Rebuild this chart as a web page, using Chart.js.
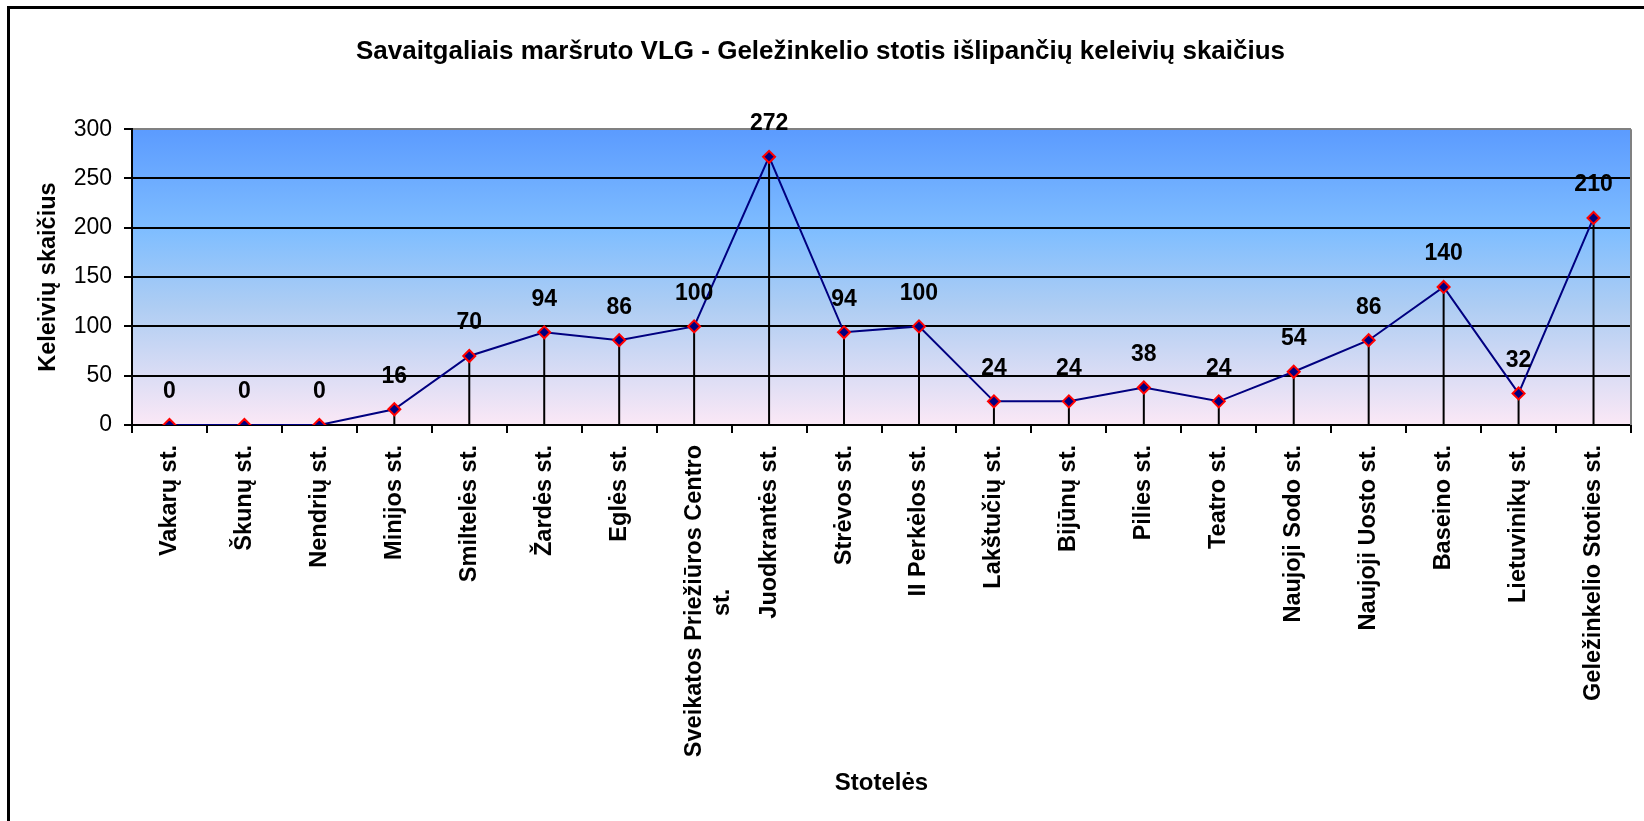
<!DOCTYPE html>
<html>
<head>
<meta charset="utf-8">
<script src="https://cdn.jsdelivr.net/npm/chart.js@4/dist/chart.umd.min.js"></script>
<style>
  html, body { margin: 0; padding: 0; background: #fff; }
  canvas { display: block; }
</style>
</head>
<body>
<canvas id="chart" width="1644" height="821"></canvas>
<script>
// Stotelės (kategorijos)
const stops = [
  'Vakarų st.', 'Škunų st.', 'Nendrių st.', 'Minijos st.', 'Smiltelės st.',
  'Žardės st.', 'Eglės st.', ['Sveikatos Priežiūros Centro', 'st.' + ' '.repeat(22)], 'Juodkrantės st.',
  'Strėvos st.', 'II Perkėlos st.', 'Lakštučių st.', 'Bijūnų st.', 'Pilies st.',
  'Teatro st.', 'Naujoji Sodo st.', 'Naujoji Uosto st.', 'Baseino st.',
  'Lietuvinikų st.', 'Geležinkelio Stoties st.'
];
// Išlipančių keleivių skaičius
const passengers = [0, 0, 0, 16, 70, 94, 86, 100, 272, 94, 100, 24, 24, 38, 24, 54, 86, 140, 32, 210];
// Y ašies žymės
const yTicks = [0, 50, 100, 150, 200, 250, 300];

const chartTitle = 'Savaitgaliais maršruto VLG - Geležinkelio stotis išlipančių keleivių skaičius';
const FONT = "'Liberation Sans', Arial, sans-serif";

// rėmelis, fonas (gradientas), numetimo linijos, reikšmių etiketės
const decor = {
  id: 'decor',
  beforeDraw(chart) {
    const { ctx, chartArea: a } = chart;
    ctx.save();
    ctx.fillStyle = '#fff';
    ctx.fillRect(0, 0, chart.width, chart.height);
    ctx.strokeStyle = '#000';
    ctx.lineWidth = 3;
    ctx.strokeRect(8.5, 7.5, 3000, 3000);
    const g = ctx.createLinearGradient(0, a.top, 0, a.bottom);
    g.addColorStop(0, '#5b9bff');
    g.addColorStop(0.35, '#80beff');
    g.addColorStop(0.6, '#aecdf3');
    g.addColorStop(1, '#fbe8f6');
    ctx.fillStyle = g;
    ctx.fillRect(a.left, a.top, a.right - a.left, a.bottom - a.top);
    ctx.restore();
  },
  beforeDatasetsDraw(chart) {
    const { ctx, chartArea: a } = chart;
    const y0 = chart.scales.y.getPixelForValue(0);
    ctx.save();
    // dešinysis plot krašto rėmas
    ctx.strokeStyle = '#808080';
    ctx.lineWidth = 2;
    ctx.beginPath();
    ctx.moveTo(a.right, a.top);
    ctx.lineTo(a.right, a.bottom);
    ctx.stroke();
    ctx.strokeStyle = '#000';
    ctx.lineWidth = 2;
    chart.getDatasetMeta(0).data.forEach((pt) => {
      ctx.beginPath();
      ctx.moveTo(pt.x, pt.y);
      ctx.lineTo(pt.x, y0);
      ctx.stroke();
    });
    ctx.restore();
  },
  afterDatasetsDraw(chart) {
    const { ctx } = chart;
    ctx.save();
    ctx.fillStyle = '#000';
    ctx.font = 'bold 23px ' + FONT;
    ctx.textAlign = 'center';
    ctx.textBaseline = 'middle';
    chart.getDatasetMeta(0).data.forEach((pt, i) => {
      ctx.fillText(String(passengers[i]), pt.x, pt.y - 33);
    });
    ctx.restore();
  }
};

new Chart(document.getElementById('chart'), {
  type: 'line',
  data: {
    labels: stops,
    datasets: [{
      data: passengers,
      borderColor: '#000080',
      borderWidth: 2,
      pointStyle: 'rectRot',
      pointRadius: 6,
      pointHoverRadius: 6,
      pointBackgroundColor: '#000080',
      pointBorderColor: '#ff0000',
      pointBorderWidth: 2,
      tension: 0
    }]
  },
  options: {
    responsive: false,
    animation: false,
    events: [],
    layout: { padding: { left: 10, right: 13, top: 0, bottom: 0 } },
    plugins: {
      legend: { display: false },
      tooltip: { enabled: false },
      title: {
        display: true,
        text: chartTitle,
        color: '#000',
        font: { family: FONT, size: 26, weight: 'bold' },
        padding: { top: 36, bottom: 62 }
      }
    },
    scales: {
      x: {
        offset: true,
        afterFit(scale) { scale.height = 396; },
        grid: {
          offset: true,
          drawOnChartArea: false,
          drawTicks: true,
          tickLength: 8,
          color: '#000',
          lineWidth: 2
        },
        border: { color: '#000', width: 2 },
        ticks: {
          autoSkip: false,
          minRotation: 90,
          maxRotation: 90,
          padding: 12,
          color: '#000',
          font: { family: FONT, size: 23.5, weight: 'bold' }
        },
        title: {
          display: true,
          text: 'Stotelės',
          color: '#000',
          font: { family: FONT, size: 24, weight: 'bold' },
          padding: { top: 0, bottom: 23 }
        }
      },
      y: {
        min: yTicks[0],
        max: yTicks[yTicks.length - 1],
        afterFit(scale) { scale.width = 122; },
        afterBuildTicks(scale) { scale.ticks = yTicks.map((v) => ({ value: v })); },
        grid: {
          color: (c) => (c.tick && c.tick.value === 300 ? '#808080' : '#000'),
          lineWidth: 2,
          tickLength: 8,
          tickColor: '#000'
        },
        border: { color: '#000', width: 2 },
        ticks: {
          padding: 12,
          color: '#000',
          font: { family: FONT, size: 23 }
        },
        title: {
          display: true,
          text: 'Keleivių skaičius',
          color: '#000',
          font: { family: FONT, size: 23.5, weight: 'bold' },
          padding: { top: 24, bottom: 0 }
        }
      }
    }
  },
  plugins: [decor]
});
</script>
</body>
</html>
